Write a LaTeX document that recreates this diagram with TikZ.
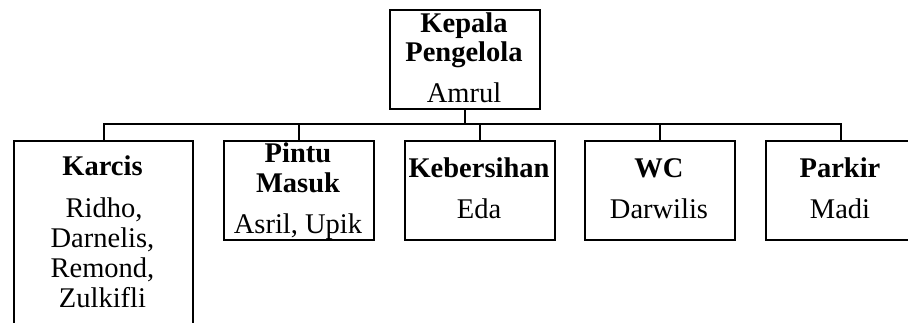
\documentclass[tikz,border=0pt]{standalone}
\usepackage{fontspec}
\setmainfont{Liberation Serif}
\begin{document}
\begin{tikzpicture}[x=1pt,y=-1pt,
  box/.style={draw=black,line width=2.2pt,rectangle,inner sep=0pt,anchor=north west},
  conn/.style={draw=black,line width=2.2pt},
  lbl/.style={inner sep=0pt,anchor=base,font=\fontsize{28.5}{30}\selectfont},
  hd/.style={lbl,font=\fontsize{28.5}{30}\selectfont\bfseries}]
\useasboundingbox (0,0) rectangle (908,322);
\clip (0,0) rectangle (908,322);
% boxes
\node[box,minimum width=150pt,minimum height=99pt] (top) at (389,9) {};
\node[box,minimum width=179pt,minimum height=200pt] (karcis) at (13,140) {};
\node[box,minimum width=150pt,minimum height=99pt] (pintu) at (223,140) {};
\node[box,minimum width=150pt,minimum height=99pt] (keb) at (404,140) {};
\node[box,minimum width=150pt,minimum height=99pt] (wc) at (584,140) {};
\node[box,minimum width=150pt,minimum height=99pt] (parkir) at (765,140) {};
% connectors
\coordinate (bus) at (0,124);
\draw[conn] (top.south) -- (top.south |- bus);
\draw[conn] (karcis.north) -- (karcis.north |- bus) -| (parkir.north);
\draw[conn] (pintu.north) -- (pintu.north |- bus);
\draw[conn] (keb.north) -- (keb.north |- bus);
\draw[conn] (wc.north) -- (wc.north |- bus);
% texts
\node[hd] (t1) at (464,32) {Kepala};
\node[hd] (t2) at (464,61) {Pengelola};
\node[lbl] (t3) at (464,102) {Amrul};
\node[hd] (k1) at (102.5,175) {Karcis};
\node[lbl] (k2) at (104,217) {Ridho,};
\node[lbl] (k3) at (102.5,247) {Darnelis,};
\node[lbl] (k4) at (102.5,277) {Remond,};
\node[lbl] (k5) at (102.5,307) {Zulkifli};
\node[hd] (p1) at (298,162) {Pintu};
\node[hd] (p2) at (298,192) {Masuk};
\node[lbl] (p3) at (298,233) {Asril, Upik};
\node[hd] (b1) at (479,177) {Kebersihan};
\node[lbl] (b2) at (479,218) {Eda};
\node[hd] (w1) at (659,177) {WC};
\node[lbl] (w2) at (659,218) {Darwilis};
\node[hd] (r1) at (840,177) {Parkir};
\node[lbl] (r2) at (840,218) {Madi};
\end{tikzpicture}
\end{document}
